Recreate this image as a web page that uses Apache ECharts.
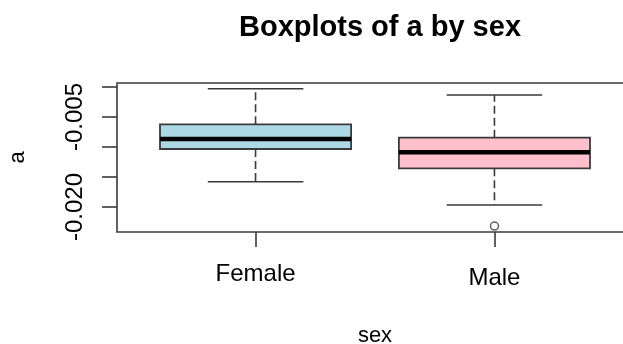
<!DOCTYPE html>
<html>
<head>
<meta charset="utf-8">
<style>
  html, body { margin: 0; padding: 0; background: #ffffff; }
  #chart { width: 623px; height: 344px; }
</style>
<script src="https://cdn.jsdelivr.net/npm/echarts@6/dist/echarts.min.js"></script>
</head>
<body>
<div id="chart"></div>
<script>
// Groups along the x axis
const categories = ['Female', 'Male'];
// Five-number summaries: [lower whisker, Q1, median, Q3, upper whisker]
const femaleStats = [-0.01578, -0.01033, -0.00867, -0.00622, -0.00030];
const maleStats   = [-0.01967, -0.01355, -0.01088, -0.00845, -0.00133];
// Points beyond the whiskers: [group index (1-based), value]
const outliers = [[2, -0.02317]];
// Axis ticks and the labels that fit without overlapping
const yTicks = [0, -0.005, -0.010, -0.015, -0.020];
const yTickLabels = [-0.005, -0.020];
const boxFills = ['#ADD8E6', '#FFC0CB'];

const FONT = 'Liberation Sans, Arial, sans-serif';

const boxData = [femaleStats, maleStats].map((s, i) => [i + 1].concat(s));

function renderBox(params, api) {
  const x = api.value(0);
  const lo = api.coord([x, api.value(1)]);
  const q1 = api.coord([x, api.value(2)]);
  const med = api.coord([x, api.value(3)]);
  const q3 = api.coord([x, api.value(4)]);
  const hi = api.coord([x, api.value(5)]);
  const halfBox = api.size([0.4, 0])[0];
  const halfCap = api.size([0.2, 0])[0];
  const cx = lo[0];
  const lineCol = '#3a3a3a';
  const whisk = { stroke: lineCol, lineWidth: 1.6, lineDash: [8, 4] };
  const cap = { stroke: lineCol, lineWidth: 1.6 };
  return {
    type: 'group',
    children: [
      { type: 'line', shape: { x1: cx, y1: q3[1], x2: cx, y2: hi[1] }, style: whisk },
      { type: 'line', shape: { x1: cx, y1: q1[1], x2: cx, y2: lo[1] }, style: whisk },
      { type: 'line', shape: { x1: cx - halfCap, y1: hi[1], x2: cx + halfCap, y2: hi[1] }, style: cap },
      { type: 'line', shape: { x1: cx - halfCap, y1: lo[1], x2: cx + halfCap, y2: lo[1] }, style: cap },
      { type: 'rect',
        shape: { x: cx - halfBox, y: q3[1], width: halfBox * 2, height: q1[1] - q3[1] },
        style: { fill: boxFills[params.dataIndex], stroke: lineCol, lineWidth: 1.8 } },
      { type: 'line', shape: { x1: cx - halfBox, y1: med[1], x2: cx + halfBox, y2: med[1] },
        style: { stroke: '#000000', lineWidth: 4.5 } }
    ]
  };
}

const chart = echarts.init(document.getElementById('chart'), null, { renderer: 'canvas' });
chart.setOption({
  animation: false,
  backgroundColor: '#ffffff',
  title: {
    text: 'Boxplots of a by sex',
    left: 375,
    top: 8,
    textAlign: 'center',
    textStyle: { fontFamily: FONT, fontSize: 29, fontWeight: 'bold', color: '#000000' }
  },
  grid: {
    left: 117, top: 83, width: 516, height: 149,
    outerBoundsMode: 'none',
    containLabel: false,
    show: true, borderColor: '#3a3a3a', borderWidth: 1.6, backgroundColor: 'transparent'
  },
  xAxis: {
    type: 'value', min: 0.42, max: 2.58,
    position: 'bottom',
    splitLine: { show: false },
    axisLine: { show: false, onZero: false },
    axisTick: { show: true, customValues: [1, 2], length: 15, lineStyle: { color: '#3a3a3a', width: 1.6 } },
    axisLabel: {
      customValues: [1, 2],
      margin: 30,
      formatter: v => (v === 1 ? '{f|' : '{m|') + categories[v - 1] + '}',
      rich: {
        f: { fontFamily: FONT, fontSize: 24, color: '#000000', padding: [0, 0, 0, 0] },
        m: { fontFamily: FONT, fontSize: 24, color: '#000000', padding: [4, 0, 0, 0] }
      }
    },
    name: 'sex',
    nameLocation: 'middle',
    nameGap: 93,
    nameTextStyle: { fontFamily: FONT, fontSize: 22, color: '#000000' }
  },
  yAxis: {
    type: 'value', min: -0.024167, max: 0.000667,
    splitLine: { show: false },
    axisLine: { show: false, onZero: false },
    axisTick: { show: true, customValues: yTicks, length: 15, lineStyle: { color: '#3a3a3a', width: 1.6 } },
    axisLabel: {
      customValues: yTickLabels,
      rotate: 90,
      margin: 30,
      formatter: v => v.toFixed(3),
      fontFamily: FONT, fontSize: 24, color: '#000000'
    },
    name: 'a',
    nameLocation: 'middle',
    nameRotate: 90,
    nameGap: 88,
    nameTextStyle: { fontFamily: FONT, fontSize: 22, color: '#000000' }
  },
  series: [
    {
      type: 'custom',
      renderItem: renderBox,
      data: boxData,
      encode: { x: 0, y: [1, 2, 3, 4, 5] },
      clip: false
    },
    {
      type: 'scatter',
      data: outliers,
      symbol: 'circle',
      symbolSize: 8,
      itemStyle: { color: '#ffffff', borderColor: '#3a3a3a', borderWidth: 1.5 }
    }
  ]
});
</script>
</body>
</html>
